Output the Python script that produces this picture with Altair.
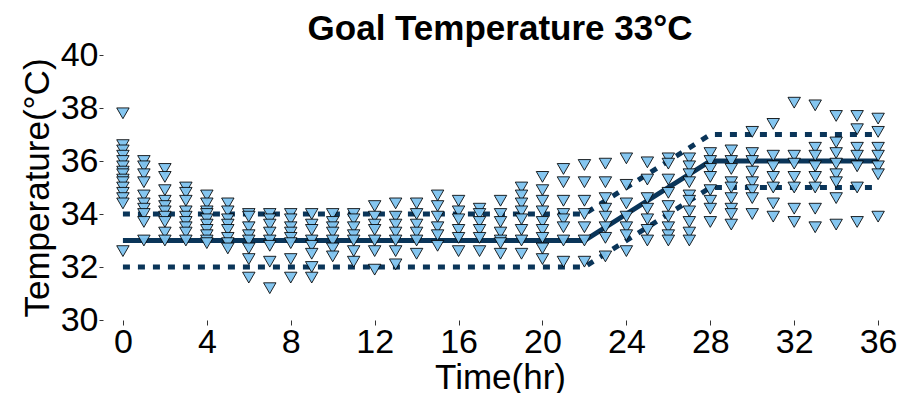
import altair as alt
import pandas as pd

# ---- data ----
hours = list(range(37))
h00 = [37.8, 36.6, 36.4, 36.2, 36.0, 35.8, 35.6, 35.5, 35.3, 35.2, 35.0, 34.8, 34.6, 34.4, 32.6]
h01 = [36.0, 35.8, 35.5, 35.2, 34.7, 34.4, 34.2, 34.0, 33.7, 33.0]
h02 = [35.7, 35.4, 34.9, 34.5, 34.3, 34.1, 33.9, 33.7, 33.3, 33.0]
h03 = [35.0, 34.8, 34.5, 34.1, 33.9, 33.7, 33.5, 33.3, 33.0]
h04 = [34.7, 34.4, 34.1, 34.0, 33.8, 33.6, 33.4, 33.2, 33.0, 32.9]
h05 = [34.4, 34.1, 33.8, 33.6, 33.4, 33.1, 32.9, 32.7]
h06 = [34.0, 33.9, 33.5, 33.2, 33.0, 32.7, 32.3, 31.6]
h07 = [34.0, 33.8, 33.6, 33.3, 33.0, 32.8, 32.2, 31.2]
h08 = [34.0, 33.8, 33.5, 33.3, 33.1, 32.9, 32.3, 31.6]
h09 = [34.0, 33.6, 33.4, 33.0, 32.8, 32.5, 32.0, 31.6]
h10 = [34.0, 33.7, 33.5, 33.3, 33.0, 32.7, 32.4]
h11 = [34.0, 33.8, 33.5, 33.2, 33.0, 32.6, 32.2]
h12 = [34.3, 33.9, 33.6, 33.4, 33.0, 32.6, 31.9]
h13 = [34.4, 33.9, 33.6, 33.3, 33.0, 32.6, 32.1]
h14 = [34.4, 34.0, 33.6, 33.3, 33.0, 32.5]
h15 = [34.7, 34.3, 33.9, 33.5, 33.2, 32.8]
h16 = [34.5, 34.1, 33.8, 33.4, 33.1, 32.6]
h17 = [34.2, 34.0, 33.7, 33.4, 33.1, 32.6]
h18 = [34.5, 34.0, 33.7, 33.3, 33.0, 32.9, 32.5]
h19 = [35.0, 34.7, 34.4, 34.1, 33.8, 33.4, 33.0, 32.5]
h20 = [35.4, 34.9, 34.5, 34.1, 33.7, 33.4, 33.1, 32.7, 32.3]
h21 = [35.7, 35.2, 34.5, 34.0, 33.8, 33.5, 33.0, 32.2]
h22 = [35.85, 35.2, 34.5, 34.0, 33.5, 33.0, 32.2]
h23 = [35.9, 35.2, 34.6, 34.2, 33.9, 33.5, 33.1, 32.4]
h24 = [36.1, 35.1, 34.4, 33.9, 33.5, 33.2, 32.6]
h25 = [35.95, 35.3, 34.6, 34.2, 33.8, 33.4, 33.0]
h26 = [36.1, 35.9, 35.3, 34.8, 34.3, 33.9, 33.5, 33.2, 33.0]
h27 = [36.1, 35.8, 35.5, 35.2, 34.7, 34.5, 34.1, 33.7, 33.3, 33.0]
h28 = [36.3, 36.0, 35.7, 35.4, 34.9, 34.5, 34.2, 33.7]
h29 = [36.4, 36.0, 35.7, 35.2, 35.0, 34.6, 34.2, 34.0, 33.6]
h30 = [37.1, 36.3, 36.0, 35.6, 35.2, 34.9, 34.6, 34.0]
h31 = [37.4, 36.2, 35.8, 35.4, 35.0, 34.4, 33.9]
h32 = [38.2, 36.2, 35.9, 35.4, 35.0, 34.2, 33.7]
h33 = [38.1, 36.5, 36.2, 35.8, 35.4, 35.0, 34.2, 33.5]
h34 = [37.7, 36.7, 36.3, 35.9, 35.5, 35.2, 34.6, 33.6]
h35 = [37.7, 37.2, 36.5, 36.2, 35.8, 35.0, 33.7]
h36 = [37.6, 37.1, 36.5, 36.2, 35.8, 35.5, 33.9]
readings = [h00, h01, h02, h03, h04, h05, h06, h07, h08, h09, h10, h11, h12,
            h13, h14, h15, h16, h17, h18, h19, h20, h21, h22, h23, h24, h25,
            h26, h27, h28, h29, h30, h31, h32, h33, h34, h35, h36]

goal_time = [0, 22, 28, 36]
goal_temp = [33, 33, 36, 36]
upper_temp = [34, 34, 37, 37]
lower_temp = [32, 32, 35, 35]

x_ticks = [0, 4, 8, 12, 16, 20, 24, 28, 32, 36]
y_ticks = [30, 32, 34, 36, 38, 40]

# ---- tables ----
pts = pd.DataFrame([{"time": h, "temp": v} for h, vals in zip(hours, readings) for v in vals])
lines = pd.DataFrame({"time": goal_time, "goal": goal_temp,
                      "upper": upper_temp, "lower": lower_temp})

FONT = "Liberation Sans"
NAVY = "#0a3559"

xscale = alt.Scale(domain=[-0.95, 36.9], nice=False, zero=False)
yscale = alt.Scale(domain=[30, 40], nice=False, zero=False)
xaxis = alt.Axis(values=x_ticks, title="Time(hr)", grid=False, domain=False,
                 tickSize=5, tickColor="#333333", labelFontSize=34, labelFont=FONT,
                 labelColor="black", labelPadding=0, titleFontSize=35, titleFont=FONT,
                 titleFontWeight="normal", titleColor="black", titlePadding=1)
yaxis = alt.Axis(values=y_ticks, title="Temperature(°C)", grid=False, domain=False,
                 tickSize=4, tickColor="#333333", labelFontSize=34, labelFont=FONT,
                 labelColor="black", labelPadding=1, titleFontSize=35, titleFont=FONT,
                 titleFontWeight="normal", titleColor="black", titlePadding=5)

X = alt.X("time:Q", scale=xscale, axis=xaxis)

goal = alt.Chart(lines).mark_line(color=NAVY, strokeWidth=5).encode(
    x=X, y=alt.Y("goal:Q", scale=yscale, axis=yaxis))
upper = alt.Chart(lines).mark_line(color=NAVY, strokeWidth=5, strokeDash=[7, 8],
                                   strokeCap="butt").encode(
    x=X, y=alt.Y("upper:Q", scale=yscale, axis=yaxis))
lower = alt.Chart(lines).mark_line(color=NAVY, strokeWidth=5, strokeDash=[7, 8],
                                   strokeCap="butt").encode(
    x=X, y=alt.Y("lower:Q", scale=yscale, axis=yaxis))

points = alt.Chart(pts).mark_point(shape="triangle-down", filled=True, fill="#7ec3ef",
                                   stroke="black", strokeWidth=1, size=155,
                                   fillOpacity=0.95, strokeOpacity=0.85).encode(
    x=X, y=alt.Y("temp:Q", scale=yscale, axis=yaxis))

chart = alt.layer(goal, upper, lower, points).properties(
    width=794, height=265,
    padding={"left": 103, "top": 55, "right": 5, "bottom": 73},
    autosize=alt.AutoSizeParams(type="none"),
    title=alt.Title("Goal Temperature 33°C", fontSize=35, font=FONT, fontWeight="bold",
                    color="black", anchor="middle", offset=-9),
    background="white",
).configure_view(stroke=None)

chart.save("out.html", embed_options={"renderer": "svg", "actions": False})
